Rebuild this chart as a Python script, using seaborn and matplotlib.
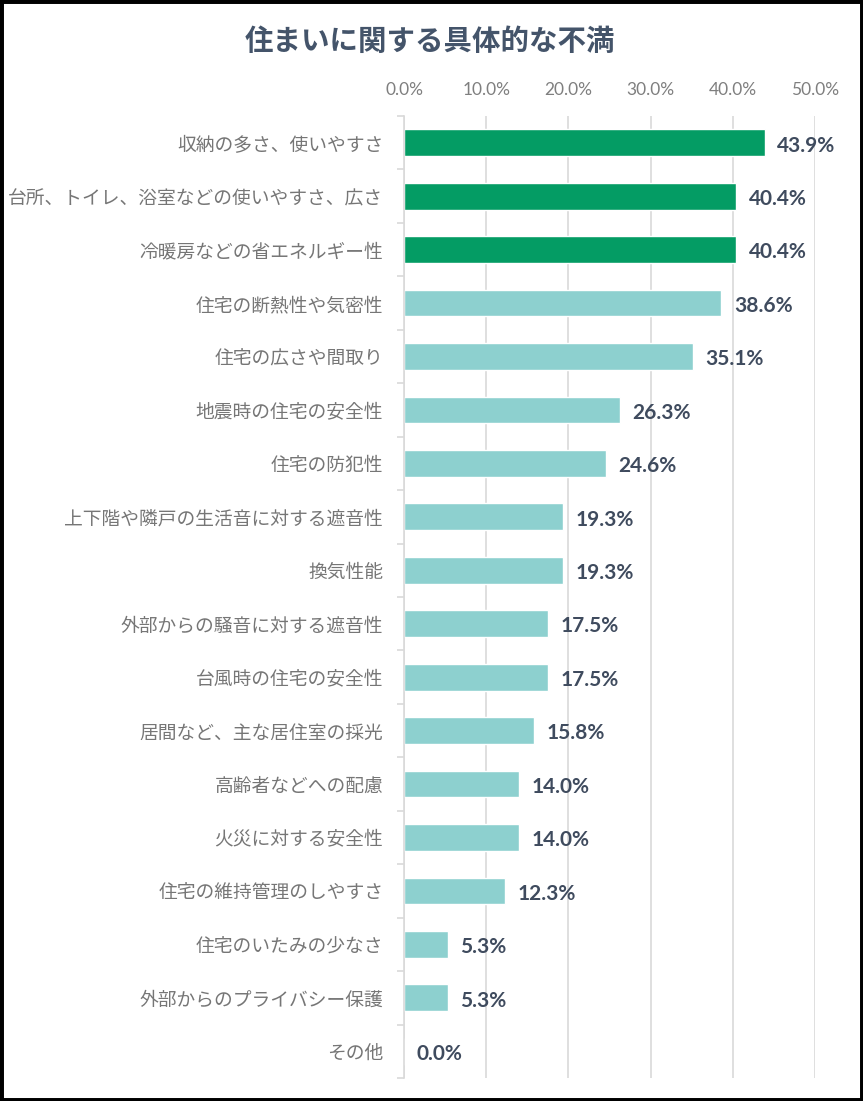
import matplotlib
matplotlib.use("Agg")
import matplotlib.pyplot as plt
import seaborn as sns
import pandas as pd
from matplotlib.patches import Rectangle
from matplotlib.ticker import FixedLocator

sns.set_theme(style="white")
plt.rcParams['font.family'] = ['Noto Sans CJK JP', 'DejaVu Sans']

categories = [
    "収納の多さ、使いやすさ",
    "台所、トイレ、浴室などの使いやすさ、広さ",
    "冷暖房などの省エネルギー性",
    "住宅の断熱性や気密性",
    "住宅の広さや間取り",
    "地震時の住宅の安全性",
    "住宅の防犯性",
    "上下階や隣戸の生活音に対する遮音性",
    "換気性能",
    "外部からの騒音に対する遮音性",
    "台風時の住宅の安全性",
    "居間など、主な居住室の採光",
    "高齢者などへの配慮",
    "火災に対する安全性",
    "住宅の維持管理のしやすさ",
    "住宅のいたみの少なさ",
    "外部からのプライバシー保護",
    "その他",
]
values = [43.9, 40.4, 40.4, 38.6, 35.1, 26.3, 24.6, 19.3, 19.3,
          17.5, 17.5, 15.8, 14.0, 14.0, 12.3, 5.3, 5.3, 0.0]
x_ticks = [0, 10, 20, 30, 40, 50]
title = "住まいに関する具体的な不満"

green = "#049C64"
teal = "#8DD0CF"
colors = [green] * 3 + [teal] * (len(categories) - 3)

df = pd.DataFrame({"category": categories, "value": values})

fig = plt.figure(figsize=(8.63, 11.01), dpi=100)
ax = fig.add_axes([404 / 863, 1 - 1078 / 1101, (815 - 404) / 863, (1078 - 116) / 1101])

sns.barplot(data=df, x="value", y="category", hue="category",
            palette=colors, legend=False, ax=ax, width=0.5,
            saturation=1, orient="h")

ax.set_xlim(0, 50)
ax.set_ylim(len(categories) - 0.5, -0.5)
ax.set_xlabel("")
ax.set_ylabel("")

ax.xaxis.tick_top()
ax.set_xticks(x_ticks)
ax.set_xticklabels([f"{t:.1f}%" for t in x_ticks], fontsize=12.5,
                   color="#7F7F7F", family=['Lato', 'DejaVu Sans'])
ax.tick_params(axis="x", length=0, pad=13)
ax.grid(axis="x", color="#D9D9D9", linewidth=1.2)
ax.set_axisbelow(True)

ax.set_yticks(range(len(categories)))
ax.set_yticklabels(categories, fontsize=13.5, color="#767676")
ax.tick_params(axis="y", which="major", length=0, pad=15)
ax.yaxis.set_minor_locator(FixedLocator([i - 0.5 for i in range(len(categories) + 1)]))
ax.tick_params(axis="y", which="minor", length=5, color="#D9D9D9", width=1.2, left=True)

for s in ["top", "right", "bottom"]:
    ax.spines[s].set_visible(False)
ax.spines["left"].set_color("#D9D9D9")
ax.spines["left"].set_linewidth(1.2)

for i, v in enumerate(values):
    ax.annotate(f"{v:.1f}%", xy=(v, i), xytext=(9, -2), textcoords="offset points",
                ha="left", va="center", fontsize=15, fontweight="bold",
                color="#3F4B5E", family=['Lato', 'DejaVu Sans'])

fig.text(430 / 863, 1 - 42 / 1101, title, ha="center", va="center",
         fontsize=20.5, fontweight="bold", color="#44546A")

fig.patches.append(Rectangle((0, 0), 1, 1, transform=fig.transFigure,
                             fill=False, edgecolor="black", linewidth=5,
                             figure=fig))

fig.savefig("out.png", dpi=100)
